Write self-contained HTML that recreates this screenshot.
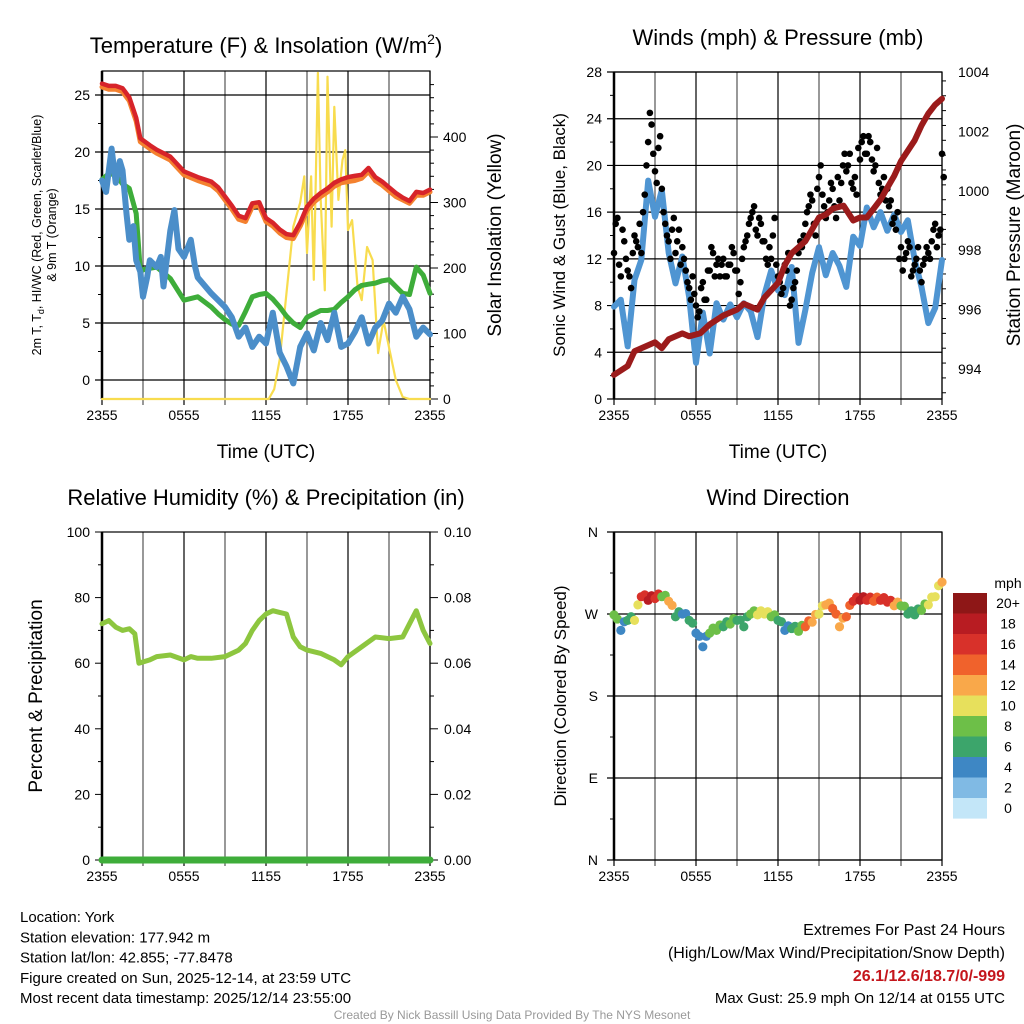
<!DOCTYPE html>
<html><head><meta charset="utf-8">
<style>
html,body{margin:0;padding:0;background:#fff;}
svg{display:block;font-family:"Liberation Sans",Arial,sans-serif;}
</style></head>
<body>
<svg id="fig" width="1024" height="1024" viewBox="0 0 1024 1024" xmlns="http://www.w3.org/2000/svg"></svg>
<script>
// ---------- DATA ----------
const halfHours = [0,0.5,1,1.5,2,2.5,3,3.5,4,4.5,5,5.5,6,6.5,7,7.5,8,8.5,9,9.5,10,10.5,11,11.5,12,12.5,13,13.5,14,14.5,15,15.5,16,16.5,17,17.5,18,18.5,19,19.5,20,20.5,21,21.5,22,22.5,23,23.5,24];
const tempHours = [0,0.5,1,1.5,2,2.5,2.8,3.5,4,5,6,7,8,8.5,9,9.5,10,10.5,11,11.5,12,12.5,13,13.5,14,14.5,15,15.5,16,16.5,17,17.5,18,18.5,19,19.5,20,20.5,21,21.5,22,22.5,23,23.5,24];
const temp2m = [26,25.8,25.8,25.6,24.8,23,21.2,20.6,20.2,19.6,18.3,17.8,17.4,16.9,16.1,15.3,14.4,14.2,15.5,15.6,14.2,13.8,13.2,12.8,12.7,13.8,15.2,15.9,16.4,16.8,17.3,17.6,17.8,17.9,18,18.6,17.8,17.4,16.9,16.4,16,15.7,16.5,16.4,16.7];
const temp9m = [25.7,25.5,25.5,25.3,24.5,22.7,20.9,20.3,19.9,19.3,18,17.5,17.1,16.6,15.8,15,14.1,13.9,15.2,15.3,13.9,13.5,12.9,12.5,12.4,13.5,14.9,15.6,16.1,16.5,17,17.3,17.4,17.5,17.7,18.3,17.5,17.1,16.6,16.1,15.8,15.5,16.2,16.2,16.5];
const dewpt = [17.6,18.1,18,17.2,16.8,14.6,9.6,9.8,9.9,8.9,7,7.3,6.4,5.8,5.3,4.9,4.8,6,7.3,7.5,7.6,7.1,6.4,5.6,5,4.6,5.5,5.8,6.1,6.1,6.2,6.8,7.3,7.9,8.3,8.4,8.5,8.7,8.8,8.2,7.6,7.5,9.9,9.2,7.6];
const windChillHours = [0,0.3,0.7,1,1.3,1.5,1.8,2,2.3,2.5,2.8,3,3.3,3.5,4,4.3,4.5,5,5.3,5.6,6,6.5,6.8,7,7.5,8,8.5,9,9.5,10,10.5,11,11.5,12,12.5,13,13.5,14,14.5,15,15.5,16,16.5,17,17.5,18,18.5,19,19.5,20,20.5,21,21.5,22,22.5,23,23.5,24];
const windChill = [17.5,16.5,20.3,17.3,19.2,18.4,14.5,12.3,13.5,10.5,9.5,7.3,9,10.5,9.9,10.8,8.2,13.1,14.9,11.5,10.8,12.3,10,9,8.3,7.6,7,6.4,5.5,3.8,4.6,2.9,3.8,3.2,5.9,2.4,1.2,-0.3,2.9,4.1,2.6,5,3.5,5.9,2.9,3.2,4.2,5.5,3.2,4.6,5.2,6.7,5.9,7.3,6.2,3.8,4.6,4];
const solarHours = [0,12.2,12.6,13,13.5,14,14.5,14.8,15,15.3,15.5,15.8,16,16.3,16.5,16.8,17,17.3,17.6,17.8,18,18.3,18.7,19,19.4,19.8,20.2,20.6,21,21.5,22,22.5,24];
const solar = [0,0,15,60,162,263,300,340,223,340,182,498,304,166,492,263,446,304,365,380,258,273,171,151,232,212,70,120,79,29,3,0,0];

const sonicWind = [7.9,8.5,4.5,10.2,11.9,18.7,15.6,17.9,12.5,9.9,12.2,8.7,3.1,7.4,3.9,8.2,6.8,8.1,7,8.2,7.5,5.3,8.9,11,9.3,8.9,11.3,4.8,7.6,10.8,13,10.6,12.5,11.4,9.6,13.9,13.1,16.4,14.7,16,14.4,15.8,14.3,15.3,11.9,9.6,6.5,7.8,11.9];
const gustTimes = [0,0.25,0.5,0.75,1,1.25,1.5,1.75,2,2.25,2.5,2.75,3,3.25,3.5,3.75,4,4.25,4.5,4.75,5,5.25,5.5,5.75,6,6.25,6.5,6.75,7,7.25,7.5,7.75,8,8.25,8.5,8.75,9,9.25,9.5,9.75,10,10.25,10.5,10.75,11,11.25,11.5,11.75,12,12.25,12.5,12.75,13,13.25,13.5,13.75,14,14.25,14.5,14.75,15,15.25,15.5,15.75,16,16.25,16.5,16.75,17,17.25,17.5,17.75,18,18.25,18.5,18.75,19,19.25,19.5,19.75,20,20.25,20.5,20.75,21,21.25,21.5,21.75,22,22.25,22.5,22.75,23,23.25,23.5,23.75,24];
const gust = [12.5,15.5,10.5,13.5,11,9.5,14,13,12.5,17.5,22,23.5,19.5,21.5,18,15,13.5,14.5,12.5,14.5,13,11,9.5,10.5,8,7.5,10,8.5,11,12.5,11.5,10.5,12,10.5,11.5,12.5,11,10,13,14,15.5,16.5,14,15,13.5,11.5,12,15.5,10.5,9,11.5,12.5,8.5,10,12.5,13,15,16.5,17,14,19,17.5,15.5,17,18,15.5,17,20,19.5,21,18,17.5,20.5,22.5,21,22,19.5,21.5,17.5,19,18,17,15.5,16,13,12,13.5,10.5,11.5,13,10,12,12.5,13.5,15,14,21];
const gust2 = [15,11.5,14.5,12,10.5,12.5,13.5,15,16,20,24.5,21,18.5,22.5,16,14,12,15.5,13.5,11.5,12,10,8.5,9,7,9.5,8.5,11,13,10.5,12,11.5,10.5,11.5,13,11,9,12,13.5,15,16,14.5,15.5,13.5,12,13,14,11.5,10,9.5,11,8,9.5,11,13.5,14,16,17.5,15,18,20,16.5,16,18.5,16.5,19,18.5,21,20,18.5,19,21.5,22,21,22.5,20.5,20,18.5,18,17,16.5,15,14.5,12,11,12.5,13,11,12,11,11.5,13,12,14.5,13,14.5,19];
const presHours = [0,1,1.5,2,3,3.5,4,5,5.5,6.3,7,8,9,9.5,10.5,11,12,12.5,13,14,15,15.5,16,16.8,17.5,18,18.5,19,19.5,20,20.5,21,22,22.5,23,23.5,24];
const pressure = [993.8,994.1,994.6,994.7,994.9,994.7,995,995.2,995.1,995.2,995.5,995.8,996,996.2,996,996.4,996.9,997.5,997.9,998.3,999.1,999.2,999.4,999.5,999,999.1,999.1,999.4,999.7,1000.1,1000.5,1001,1001.7,1002.2,1002.6,1002.9,1003.1];

const rhHours = [0,0.5,1,1.5,2,2.4,2.7,3.5,4,5,6,6.5,7,8,9,10,10.5,11,11.5,12,12.5,13,13.5,14,14.5,15,16,17,17.5,18,19,20,21,22,22.5,23,23.5,24];
const rh = [72,73,71,70,70.5,69,60,61,62,62.5,61,62,61.5,61.5,62,64,66,70,73,75,76,75.5,75,68,65,64,63,61,59.5,62,65,68,67.5,68,72,76,70,66];
const precip = [0,0,0,0,0];
const precipHours = [0,6,12,18,24];

const dirWind = [269,252,263,263,289,285,287,289,284,267,270,263,249,234,249,252,256,259,263,256,270,269,270,267,263,252,254,251,256,261,270,280,276,256,267,284,285,285,284,285,283,279,279,270,269,274,280,289,305];
const dirSpeed = [9,5,7,10,17,19,17,9,12,7,4,6,4,4,8,8,7,8,7,6,8,10,10,8,7,4,6,8,14,12,10,12,14,12,14,17,18,16,14,16,16,12,8,6,6,8,10,10,13];
const colorbarLabels = ["20+","18","16","14","12","10","8","6","4","2","0"];
const colorbarColors = ["#8e1717","#b81c22","#d8312a","#f0622c","#f9a84a","#e7e05c","#6dbf48","#3ca56b","#3e87c4","#80bae4","#c3e6f8"];
const timeLabels = ["2355","0555","1155","1755","2355"];
const dirLabels = ["N","W","S","E","N"];
const dirValues = [360,270,180,90,0];

// ---------- HELPERS ----------
const NS="http://www.w3.org/2000/svg";
const svg=document.getElementById('fig');
function mk(tag,attrs,parent){const e=document.createElementNS(NS,tag);for(const k in attrs)e.setAttribute(k,attrs[k]);(parent||svg).appendChild(e);return e;}
function txt(s,x,y,size,anchor,parent,extra){const e=mk('text',Object.assign({x:x,y:y,'font-size':size,'text-anchor':anchor||'middle',fill:'#000'},extra||{}),parent);e.textContent=s;return e;}
function lin(d0,d1,r0,r1){return v=>r0+(v-d0)*(r1-r0)/(d1-d0);}
function poly(xs,ys,fx,fy,stroke,w,parent){let pts=xs.map((t,i)=>fx(t).toFixed(1)+','+fy(ys[i]).toFixed(1)).join(' ');return mk('polyline',{points:pts,fill:'none',stroke:stroke,'stroke-width':w,'stroke-linejoin':'round','stroke-linecap':'round'},parent);}

function frame(g,x0,x1,y0,y1,hGridYs){
  for(let i=0;i<=8;i++){const x=x0+i*(x1-x0)/8;
    const l=mk('line',{x1:x,x2:x,y1:y0,y2:y1+6,stroke:(i%2?'#555':'#000'),'stroke-width':1.2},g);
    }
  hGridYs.forEach(y=>{const l=mk('line',{x1:x0-7,x2:x1,y1:y,y2:y,stroke:'#000','stroke-width':1.2},g);
    });
  const r=mk('rect',{x:x0,y:y0,width:x1-x0,height:y1-y0,fill:'none',stroke:'#000','stroke-width':1.2},g);
  
  mk('line',{x1:x0,x2:x0,y1:y0,y2:y1,stroke:'#000','stroke-width':2.5},g);
  timeLabels.forEach((s,i)=>{const t=txt(s,x0+i*(x1-x0)/4,y1+21,14,'middle',g);});
}

// ---------- PANEL 1 : Temperature ----------
(function(){
const g=mk('g',{});
const X0=102,X1=430,Y0=71,Y1=399;
const fx=lin(0,24,X0,X1), fy=lin(0,25,380,95), fs=lin(0,400,399,137);
frame(g,X0,X1,Y0,Y1,[0,5,10,15,20,25].map(fy));
[2.5,7.5,12.5,17.5,22.5].forEach(v=>mk('line',{x1:X0-4,x2:X0,y1:fy(v),y2:fy(v),stroke:'#000'},g));
[0,5,10,15,20,25].forEach(v=>{const t=txt(String(v),X0-12,fy(v)+5,14,'end',g);});
for(let v=0;v<=480;v+=20){const y=fs(v);if(y<Y0)break;mk('line',{x1:X1,x2:X1+(v%100?4:8),y1:y,y2:y,stroke:'#000'},g);}
[0,100,200,300,400].forEach(v=>{const t=txt(String(v),X1+13,fs(v)+5,14,'start',g);});
let s;
s=poly(solarHours,solar,fx,fs,'#f8dc4e',2.2,g);
s=poly(tempHours,dewpt,fx,fy,'#3ead3a',5,g);
s=poly(windChillHours,windChill,fx,fy,'#4b8ec9',6,g);
s=poly(tempHours,temp9m,fx,fy,'#f4812f',5,g);
s=poly(tempHours,temp2m,fx,fy,'#d7242a',4.5,g);
const t=mk('text',{x:266,y:53,'font-size':22,'text-anchor':'middle'},g);t.innerHTML='Temperature (F) &amp; Insolation (W/m<tspan dy="-9" font-size="14">2</tspan><tspan dy="9">)</tspan>';

let a=txt('Time (UTC)',266,458,19,'middle',g);
a=mk('text',{x:0,y:0,'font-size':12.5,'text-anchor':'middle',transform:'translate(41,235) rotate(-90)'},g);
a.innerHTML='2m T, T<tspan dy="3" font-size="9">d</tspan><tspan dy="-3">, HI/WC (Red, Green, Scarlet/Blue)</tspan>';

a=txt('& 9m T (Orange)',0,0,12.5,'middle',g,{transform:'translate(56,235) rotate(-90)'});
a=txt('Solar Insolation (Yellow)',0,0,19,'middle',g,{transform:'translate(501,235) rotate(-90)'});
})();

// ---------- PANEL 2 : Winds ----------
(function(){
const g=mk('g',{});
const X0=614,X1=942,Y0=72,Y1=399;
const fx=lin(0,24,X0,X1), fy=lin(0,28,399,72), fp=lin(994,1004,369,72);
frame(g,X0,X1,Y0,Y1,[0,4,8,12,16,20,24,28].map(fy));
[2,6,10,14,18,22,26].forEach(v=>mk('line',{x1:X0-4,x2:X0,y1:fy(v),y2:fy(v),stroke:'#000'},g));
[0,4,8,12,16,20,24,28].forEach(v=>{const t=txt(String(v),X0-12,fy(v)+5,14,'end',g);});
for(let v=993.2;v<=1004.01;v+=0.5){const y=fp(v);if(y>Y1)continue;const maj=Math.abs(v-Math.round(v))<0.01&&Math.round(v)%2===0;mk('line',{x1:X1,x2:X1+(maj?8:4),y1:y,y2:y,stroke:'#000'},g);}
[994,996,998,1000,1002,1004].forEach(v=>{const t=txt(String(v),X1+16,fp(v)+5,14,'start',g);});
let s=poly(halfHours,sonicWind,fx,fy,'#4f95d2',6,g);
gustTimes.forEach((h,i)=>{const c=mk('circle',{cx:fx(h),cy:fy(gust[i]),r:3.3,fill:'#000'},g);
  
  if(i<gust2.length){const c2=mk('circle',{cx:fx(h+0.125),cy:fy(gust2[i]),r:3.3,fill:'#000'},g);
  }});
s=poly(presHours,pressure,fx,fp,'#9b1b1b',6,g);
let a=txt('Winds (mph) & Pressure (mb)',778,45,22,'middle',g);
a=txt('Time (UTC)',778,458,19,'middle',g);
a=txt('Sonic Wind & Gust (Blue, Black)',0,0,17,'middle',g,{transform:'translate(565,235) rotate(-90)'});
a=txt('Station Pressure (Maroon)',0,0,19,'middle',g,{transform:'translate(1020,235) rotate(-90)'});
})();

// ---------- PANEL 3 : RH ----------
(function(){
const g=mk('g',{});
const X0=102,X1=430,Y0=532,Y1=860;
const fx=lin(0,24,X0,X1), fy=lin(0,100,860,532), fpr=lin(0,0.1,860,532);
frame(g,X0,X1,Y0,Y1,[]);
[0,20,40,60,80,100].forEach(v=>{mk('line',{x1:X0-7,x2:X0,y1:fy(v),y2:fy(v),stroke:'#000'},g);const t=txt(String(v),X0-12,fy(v)+5,14,'end',g);});
[10,30,50,70,90].forEach(v=>mk('line',{x1:X0-4,x2:X0,y1:fy(v),y2:fy(v),stroke:'#000'},g));
for(let v=0;v<=0.1001;v+=0.01){mk('line',{x1:X1,x2:X1+(Math.round(v*100)%2?4:8),y1:fpr(v),y2:fpr(v),stroke:'#000'},g);}
[0,0.02,0.04,0.06,0.08,0.1].forEach(v=>{const t=txt(v.toFixed(2),X1+14,fpr(v)+5,14,'start',g);});
let s=poly(rhHours,rh,fx,fy,'#8dc63f',5,g);
s=poly(precipHours,precip,fx,fpr,'#3ead3a',7,g);
let a=txt('Relative Humidity (%) & Precipitation (in)',266,505,22,'middle',g);
a=txt('Percent & Precipitation',0,0,19,'middle',g,{transform:'translate(42,696) rotate(-90)'});
})();

// ---------- PANEL 4 : Wind direction ----------
(function(){
const g=mk('g',{});
const X0=614,X1=942,Y0=532,Y1=860;
const fx=lin(0,24,X0,X1), fy=lin(0,360,860,532);
frame(g,X0,X1,Y0,Y1,dirValues.map(fy));
dirLabels.forEach((s,i)=>{const t=txt(s,X0-16,fy(dirValues[i])+5,14,'end',g);});
[45,135,225,315].forEach(v=>mk('line',{x1:X0-4,x2:X0,y1:fy(v),y2:fy(v),stroke:'#000'},g));
function col(sp){let idx=Math.min(10,Math.floor(sp/2));return colorbarColors[10-idx];}
halfHours.forEach((h,i)=>{const c=mk('circle',{cx:fx(h),cy:fy(dirWind[i]),r:4.6,fill:col(dirSpeed[i])},g);
  
  if(i<halfHours.length-1){const c2=mk('circle',{cx:fx(h+0.25),cy:fy((dirWind[i]+dirWind[i+1])/2+4),r:4.6,fill:col(dirSpeed[i])},g);
  }});
let a=txt('Wind Direction',778,505,22,'middle',g);
a=txt('Direction (Colored By Speed)',0,0,17,'middle',g,{transform:'translate(566,696) rotate(-90)'});
const cb=mk('g',{},g);
a=txt('mph',1008,588,14,'middle',cb);
colorbarLabels.forEach((s,i)=>{const y=593+i*20.5;const r=mk('rect',{x:953,y:y,width:34,height:20.6,fill:colorbarColors[i]},cb);
  
  const t=txt(s,1008,y+15,14,'middle',cb);});
})();

// ---------- FOOTER ----------
(function(){
const g=mk('g',{});
["Location: York","Station elevation: 177.942 m","Station lat/lon: 42.855; -77.8478","Figure created on Sun, 2025-12-14, at 23:59 UTC","Most recent data timestamp: 2025/12/14 23:55:00"].forEach((s,i)=>{const t=txt(s,20,922+i*20.3,15,'start',g);});
let t=txt('Extremes For Past 24 Hours',1005,935,16,'end',g);
t=txt('(High/Low/Max Wind/Precipitation/Snow Depth)',1005,958,16,'end',g);
t=txt('26.1/12.6/18.7/0/-999',1005,981,16,'end',g,{fill:'#c4161c','font-weight':'bold'});
t=txt('Max Gust: 25.9 mph On 12/14 at 0155 UTC',1005,1003,15,'end',g);
t=txt('Created By Nick Bassill Using Data Provided By The NYS Mesonet',512,1019,12,'middle',g,{fill:'#999'});
})();
</script>
</body></html>
